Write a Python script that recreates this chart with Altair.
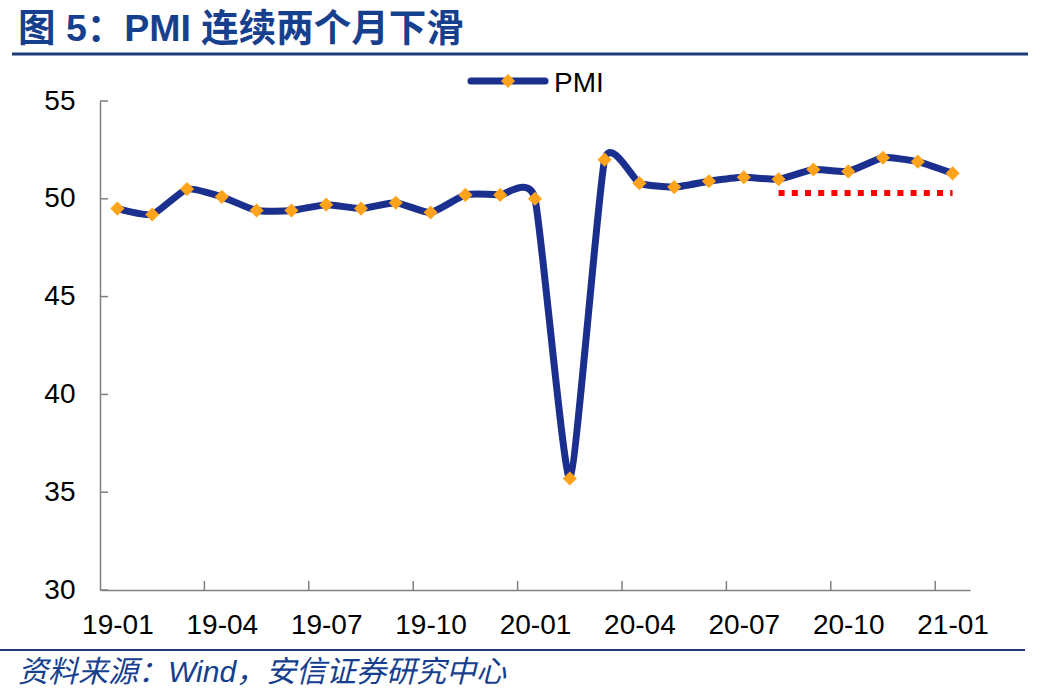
import altair as alt
import pandas as pd

months = ["19-01","19-02","19-03","19-04","19-05","19-06","19-07","19-08","19-09","19-10","19-11","19-12",
          "20-01","20-02","20-03","20-04","20-05","20-06","20-07","20-08","20-09","20-10","20-11","20-12",
          "21-01"]
pmi = [49.5, 49.2, 50.5, 50.1, 49.4, 49.4, 49.7, 49.5, 49.8, 49.3, 50.2, 50.2,
       50.0, 35.7, 52.0, 50.8, 50.6, 50.9, 51.1, 51.0, 51.5, 51.4, 52.1, 51.9,
       51.3]
ref_months = ["20-08", "21-01"]
ref_values = [50.3, 50.3]
x_tick_bounds = [2.5, 5.5, 8.5, 11.5, 14.5, 17.5, 20.5, 23.5]
y_ticks = [30, 35, 40, 45, 50, 55]

W, H = 870, 489
NAVY = "#1B2F8F"
ORANGE = "#FFA31A"
BLUE_TEXT = "#16408E"
FONT = "Liberation Sans, Arial, Noto Sans CJK SC"

df = pd.DataFrame({"idx": list(range(len(months))), "month": months, "pmi": pmi})
ref_df = pd.DataFrame({"idx": [months.index(m) for m in ref_months], "v": ref_values})
xt_df = pd.DataFrame({"b": x_tick_bounds})
yt_df = pd.DataFrame({"v": y_ticks})

label_arr = "[" + ",".join("'%s'" % m for m in months) + "]"

xscale = alt.Scale(domain=[-0.5, len(months) - 0.5], nice=False, zero=False)
yscale = alt.Scale(domain=[30, 55], nice=False, zero=False)

xaxis = alt.Axis(values=list(range(0, len(months), 3)), labelExpr=label_arr + "[datum.value]",
                 ticks=False, grid=False, domainColor="#808080", domainWidth=1.5,
                 labelFontSize=28, labelColor="#000000", labelFont=FONT, labelPadding=21,
                 title=None)
yaxis = alt.Axis(values=y_ticks, ticks=False, grid=False, domainColor="#808080", domainWidth=1.5,
                 labelFontSize=28, labelColor="#000000", labelFont=FONT, labelPadding=25,
                 title=None)

line = alt.Chart(df).mark_line(color=NAVY, strokeWidth=7, interpolate="cardinal", tension=0.5).encode(
    x=alt.X("idx:Q", scale=xscale, axis=xaxis),
    y=alt.Y("pmi:Q", scale=yscale, axis=yaxis),
)
points = alt.Chart(df).mark_point(shape="diamond", filled=True, color=ORANGE, size=200, opacity=1).encode(
    x=alt.X("idx:Q", scale=xscale),
    y=alt.Y("pmi:Q", scale=yscale),
)
ref = alt.Chart(ref_df).mark_line(color="#FF0000", strokeWidth=6, strokeDash=[6, 7.2], strokeCap="butt").encode(
    x=alt.X("idx:Q", scale=xscale),
    y=alt.Y("v:Q", scale=yscale),
)
xticks = alt.Chart(xt_df).mark_rule(color="#808080", strokeWidth=1.5).encode(
    x=alt.X("b:Q", scale=xscale),
    y=alt.value(H - 9), y2=alt.value(H),
)
yticks = alt.Chart(yt_df).mark_rule(color="#808080", strokeWidth=1.5).encode(
    y=alt.Y("v:Q", scale=yscale),
    x=alt.value(0), x2=alt.value(8),
)

# Decorations: title, rules, source, legend
base = alt.Chart(pd.DataFrame({"a": [0]}))
title = base.mark_text(text="图 5：PMI 连续两个月下滑", font=FONT, fontSize=37.5, fontWeight="bold",
                       color=BLUE_TEXT, align="left", baseline="alphabetic").encode(
    x=alt.value(-82), y=alt.value(-60))
top_rule = base.mark_rule(color="#1F3A7A", strokeWidth=3).encode(
    x=alt.value(-88), x2=alt.value(928), y=alt.value(-47))
bottom_rule = base.mark_rule(color="#1F3A7A", strokeWidth=2).encode(
    x=alt.value(-100), x2=alt.value(925), y=alt.value(549))
source = base.mark_text(text="资料来源：Wind，安信证券研究中心", font=FONT, fontSize=30, fontStyle="italic",
                        color=BLUE_TEXT, align="left", baseline="alphabetic").encode(
    x=alt.value(-82), y=alt.value(581))
leg_line = base.mark_rule(color=NAVY, strokeWidth=7, strokeCap="round").encode(
    x=alt.value(371), x2=alt.value(445), y=alt.value(-20))
leg_pt = base.mark_point(shape="diamond", filled=True, color=ORANGE, size=200, opacity=1).encode(
    x=alt.value(408), y=alt.value(-20))
leg_text = base.mark_text(text="PMI", font=FONT, fontSize=28, color="#000000",
                          align="left", baseline="alphabetic").encode(
    x=alt.value(454), y=alt.value(-9))

chart = alt.layer(line, points, ref, xticks, yticks, title, top_rule, bottom_rule, source,
                  leg_line, leg_pt, leg_text).properties(
    width=W, height=H,
    autosize=alt.AutoSizeParams(type="none"),
    padding={"left": 100, "top": 101, "right": 72, "bottom": 102},
    background="white",
).configure_view(stroke=None)

chart.save("out.html", embed_options={"renderer": "svg", "actions": False})
